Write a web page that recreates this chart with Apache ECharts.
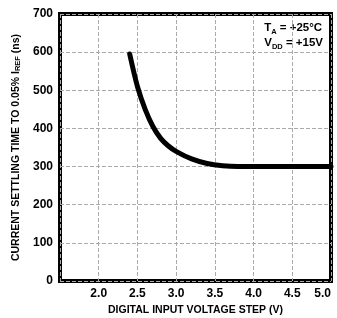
<!DOCTYPE html>
<html>
<head>
<meta charset="utf-8">
<script src="https://cdn.jsdelivr.net/npm/echarts@6/dist/echarts.min.js"></script>
<style>
  html, body { margin: 0; padding: 0; background: #fff; }
  #chart { width: 337px; height: 318px; }
</style>
</head>
<body>
<div id="chart"></div>
<script>
    // digital input voltage step (V)
    var stepVolts = [2.4, 2.5, 2.6, 2.7, 2.8, 2.9, 3.0, 3.2, 3.4, 3.6, 3.8, 4.2, 5.0];
    // current settling time (ns)
    var settleNs = [595, 510, 450, 405, 374, 354, 340, 320, 308, 302, 300, 300, 300];
    var xTicks = [1.5, 5.0, 0.5];   // min, max, interval
    var yTicks = [0, 700, 100];

    var font = "'Liberation Sans', Arial, sans-serif";

    var points = [];
    for (var i = 0; i < stepVolts.length; i++) {
        points.push([stepVolts[i], settleNs[i]]);
    }

    var option = {
        animation: false,
        textStyle: { fontFamily: font },
        grid: {
            left: 60,
            right: 6,
            top: 14,
            bottom: 37,
            outerBoundsMode: 'none',
            containLabel: false,
            show: true,
            borderColor: '#000',
            borderWidth: 4
        },
        xAxis: {
            type: 'value',
            min: xTicks[0],
            max: xTicks[1],
            interval: xTicks[2],
            name: 'DIGITAL INPUT VOLTAGE STEP (V)',
            nameLocation: 'middle',
            nameGap: 24,
            nameTextStyle: { fontFamily: font, fontWeight: 'bold', fontSize: 10.5, color: '#000' },
            axisLine: { show: false },
            axisTick: { show: false },
            axisLabel: {
                color: '#000',
                fontWeight: 'bold',
                fontSize: 12,
                fontFamily: font,
                margin: 7,
                alignMaxLabel: 'right',
                formatter: function (v) {
                    return v < 1.9 ? '' : v.toFixed(1);
                }
            },
            splitLine: { lineStyle: { color: '#aaa', type: 'dashed', width: 1 } }
        },
        yAxis: {
            type: 'value',
            min: yTicks[0],
            max: yTicks[1],
            interval: yTicks[2],
            name: '{t|CURRENT SETTLING TIME TO 0.05% I}{s|REF}{t| (ns)}',
            nameLocation: 'middle',
            nameGap: 38,
            nameTextStyle: {
                rich: {
                    t: { fontFamily: font, fontWeight: 'bold', fontSize: 10.5, color: '#000' },
                    s: { fontFamily: font, fontWeight: 'bold', fontSize: 7.5, color: '#000', verticalAlign: 'bottom', padding: [4, 0, 0, 0] }
                }
            },
            axisLine: { show: false },
            axisTick: { show: false },
            axisLabel: { color: '#000', fontWeight: 'bold', fontSize: 12, fontFamily: font, margin: 7 },
            splitLine: { lineStyle: { color: '#aaa', type: 'dashed', width: 1 } }
        },
        graphic: [{
            type: 'text',
            right: 14,
            top: 22,
            style: {
                text: '{b|T}{s|A}{b| = +25°C}\n{b|V}{s|DD}{b| = +15V}',
                rich: {
                    b: { fontFamily: font, fontWeight: 'bold', fontSize: 11.5, fill: '#000', lineHeight: 15 },
                    s: { fontFamily: font, fontWeight: 'bold', fontSize: 7.5, fill: '#000', lineHeight: 15, verticalAlign: 'bottom' }
                }
            }
        }],
        series: [{
            type: 'line',
            data: points,
            smooth: 0.3,
            showSymbol: false,
            lineStyle: { color: '#000', width: 5, cap: 'round' }
        }]
    };

    echarts.init(document.getElementById('chart')).setOption(option);
</script>
</body>
</html>
